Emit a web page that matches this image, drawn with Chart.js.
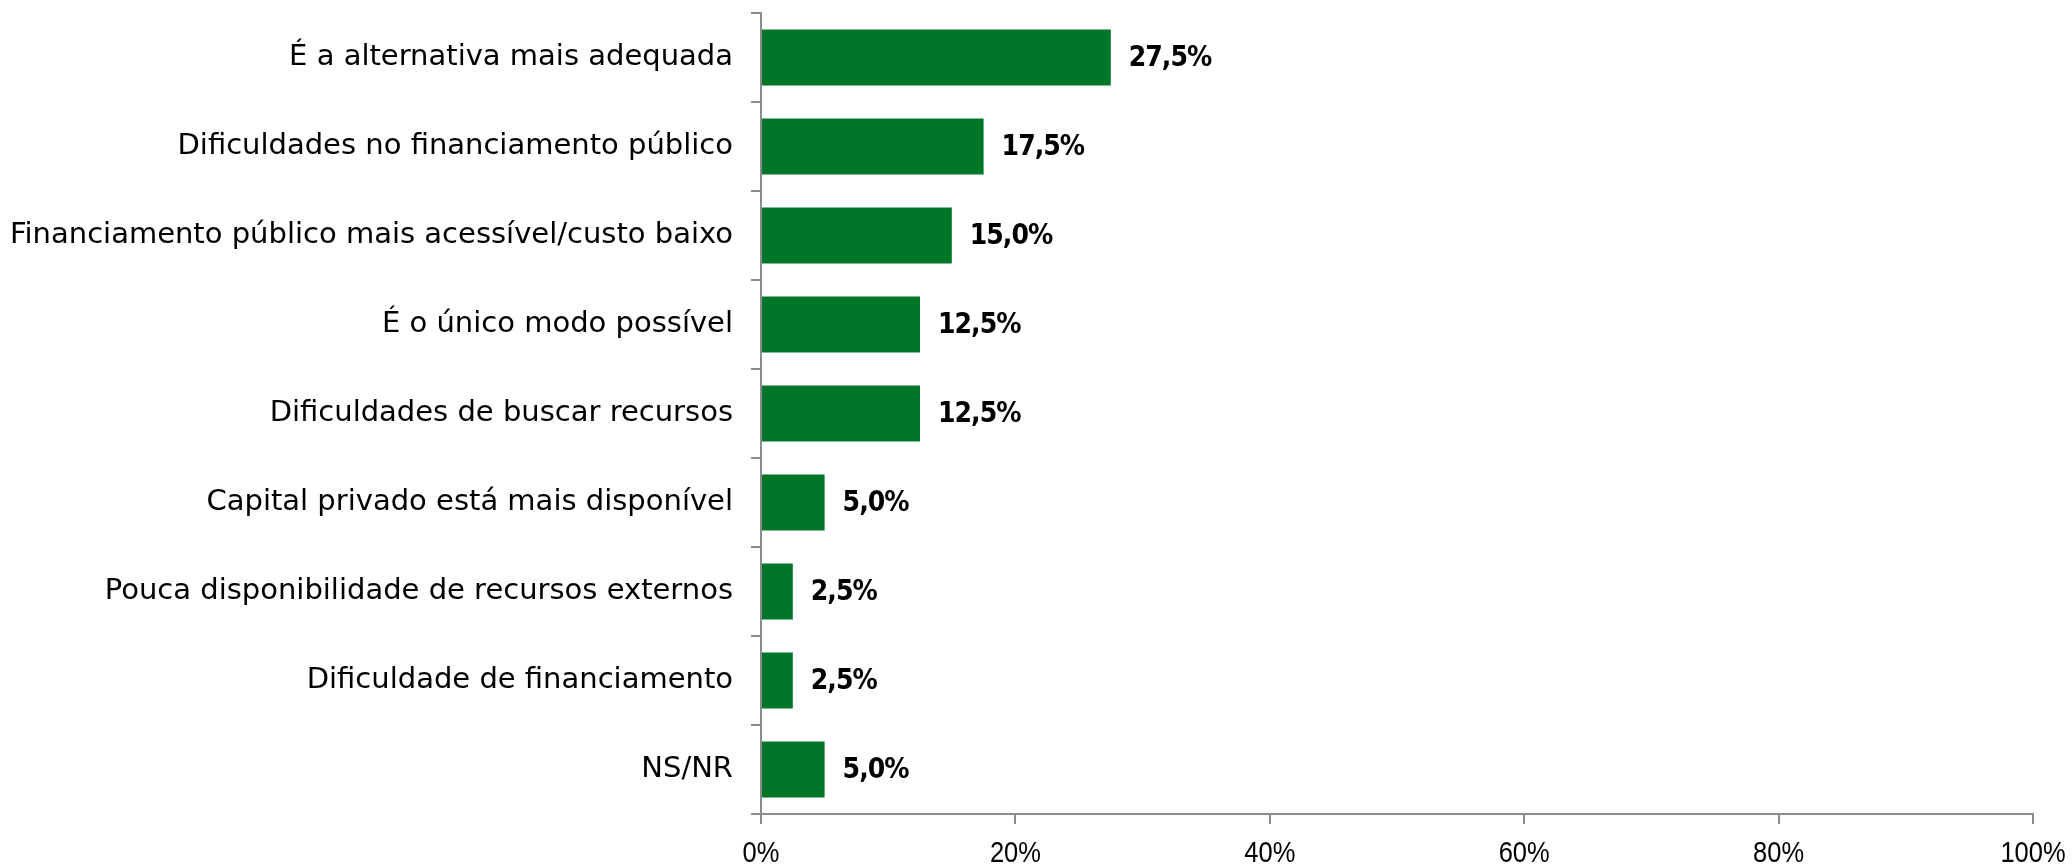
<!DOCTYPE html>
<html>
<head>
<meta charset="utf-8">
<script src="https://cdn.jsdelivr.net/npm/chart.js@4/dist/chart.umd.min.js"></script>
<style>
  html, body { margin: 0; padding: 0; background: #ffffff; }
  #wrap { position: relative; width: 2072px; height: 867px; }
</style>
</head>
<body>
<div id="wrap"><canvas id="chart" width="2072" height="867"></canvas></div>
<script>
// Reasons given, share of answers (%)
const categories = [
  'É a alternativa mais adequada',
  'Dificuldades no financiamento público',
  'Financiamento público mais acessível/custo baixo',
  'É o único modo possível',
  'Dificuldades de buscar recursos',
  'Capital privado está mais disponível',
  'Pouca disponibilidade de recursos externos',
  'Dificuldade de financiamento',
  'NS/NR'
];
const shares = [27.5, 17.5, 15.0, 12.5, 12.5, 5.0, 2.5, 2.5, 5.0];
const xTickValues = [0, 20, 40, 60, 80, 100];

const fmtShare = v => v.toFixed(1).replace('.', ',') + '%';

const LABEL_FONT = '"DejaVu Sans", sans-serif';
const VALUE_FONT = '"DejaVu Sans Condensed", "DejaVu Sans", sans-serif';
const TICK_FONT = '"Liberation Sans", Arial, sans-serif';
const AXIS_GREY = '#8c8c8c';

// Writes the value at the end of each bar
const valueLabels = {
  id: 'valueLabels',
  afterDatasetsDraw(chart) {
    const ctx = chart.ctx;
    const meta = chart.getDatasetMeta(0);
    ctx.save();
    ctx.font = 'bold 28px ' + VALUE_FONT;
    ctx.letterSpacing = '-1px';
    ctx.fillStyle = '#000000';
    ctx.textAlign = 'left';
    ctx.textBaseline = 'middle';
    meta.data.forEach((bar, i) => {
      ctx.fillText(fmtShare(shares[i]), bar.x + 18, bar.y + 1);
    });
    ctx.restore();
  }
};

// Narrow percentage labels under the horizontal axis
const xTickLabels = {
  id: 'xTickLabels',
  afterDraw(chart) {
    const ctx = chart.ctx;
    const x = chart.scales.x;
    const squeeze = 0.85;
    ctx.save();
    ctx.font = '30px ' + TICK_FONT;
    ctx.fillStyle = '#000000';
    ctx.textAlign = 'center';
    ctx.textBaseline = 'middle';
    xTickValues.forEach(v => {
      const px = x.getPixelForValue(v);
      ctx.save();
      ctx.translate(px, x.top + 40);
      ctx.scale(squeeze, 1);
      ctx.fillText(v + '%', 0, 0);
      ctx.restore();
    });
    ctx.restore();
  }
};

new Chart(document.getElementById('chart'), {
  type: 'bar',
  data: {
    labels: categories,
    datasets: [{
      data: shares,
      backgroundColor: '#007629',
      borderWidth: 0,
      barPercentage: 1.0,
      categoryPercentage: 0.63
    }]
  },
  options: {
    indexAxis: 'y',
    responsive: false,
    animation: false,
    layout: { padding: { top: 13, right: 39, left: 0, bottom: 0 } },
    plugins: {
      legend: { display: false },
      tooltip: { enabled: false }
    },
    scales: {
      y: {
        type: 'category',
        offset: true,
        afterFit(scale) {
          scale.width = 761;
          scale.paddingTop = 0;
          scale.paddingBottom = 0;
        },
        border: { display: true, color: AXIS_GREY, width: 2 },
        grid: {
          offset: true,
          drawOnChartArea: false,
          drawTicks: true,
          tickLength: 10,
          color: AXIS_GREY,
          lineWidth: 2
        },
        ticks: {
          padding: 18,
          color: '#000000',
          font: { family: LABEL_FONT, size: 29 }
        }
      },
      x: {
        type: 'linear',
        min: 0,
        max: 100,
        afterFit(scale) {
          scale.height = 53;
          scale.paddingLeft = 0;
          scale.paddingRight = 0;
        },
        afterBuildTicks(scale) { scale.ticks = xTickValues.map(v => ({ value: v })); },
        border: { display: true, color: AXIS_GREY, width: 2 },
        grid: {
          drawOnChartArea: false,
          drawTicks: true,
          tickLength: 10,
          color: AXIS_GREY,
          lineWidth: 2
        },
        ticks: {
          display: false
        }
      }
    }
  },
  plugins: [valueLabels, xTickLabels]
});
</script>
</body>
</html>
